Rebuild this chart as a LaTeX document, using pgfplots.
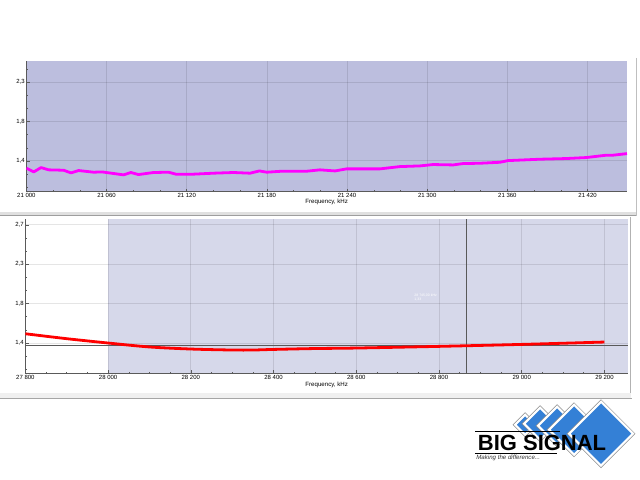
\documentclass[border=0pt]{standalone}
\usepackage{pgfplots}
\pgfplotsset{compat=1.18}
\usepackage{fontspec}
\setmainfont{Liberation Sans}
\definecolor{topfill}{RGB}{188,190,222}
\definecolor{botfill}{RGB}{214,216,234}
\definecolor{logoblue}{RGB}{52,128,214}
\definecolor{axgray}{RGB}{90,90,90}

\pgfplotsset{
  vswr/.style={
    y coord trafo/.code={\pgfmathparse{##1<1.8 ? (##1-1.4)/0.4 : (##1<2.3 ? 1+(##1-1.8)/0.5 : 2+(##1-2.3)/0.4)}},
    y coord inv trafo/.code={\pgfmathparse{##1<1 ? 1.4+0.4*##1 : (##1<2 ? 1.8+0.5*(##1-1) : 2.3+0.4*(##1-2))}},
  },
  panel/.style={
    scale only axis,
    anchor=south west,
    axis x line*=bottom,
    axis y line*=left,
    axis line style={-, draw=axgray, line width=0.6pt},
    tick align=inside,
    major tick length=2.5pt,
    minor tick length=1.5pt,
    tick style={draw=axgray, line width=0.4pt},
    grid=major,
    major grid style={draw=black, opacity=0.1, line width=0.6pt},
    ticklabel style={font=\fontsize{4.5}{5}\selectfont, text=black, inner sep=1pt},
    xlabel style={font=\fontsize{4.6}{5}\selectfont, text=black, inner sep=1pt},
    xlabel={Frequency, kHz},
    scaled x ticks=false,
    scaled y ticks=false,
    clip=true,
  },
}

\begin{document}
\begin{tikzpicture}
\path (0,0) rectangle (480pt,360pt);

% ---------- top panel ----------
\begin{axis}[panel, vswr,
  at={(19.5pt,216pt)},
  width=450.75pt, height=98.25pt,
  xmin=21000, xmax=21449.5,
  ymin=1.085, ymax=2.516,
  axis background/.style={fill=topfill},
  xtick={21000,21060,21120,21180,21240,21300,21360,21420},
  xticklabels={21 000,21 060,21 120,21 180,21 240,21 300,21 360,21 420},
  minor x tick num=2,
  ytick={1.4,1.8,2.3},
  yticklabels={{1,4},{1,8},{2,3}},
  minor ytick={1.133,1.267,1.533,1.667,1.967,2.133,2.433},
  xlabel style={yshift=1.5pt},
]
\addplot[draw={rgb,255:red,255;green,0;blue,255}, line width=2.1pt, line join=round] coordinates {
(21000,1.326) (21005.5,1.288) (21011,1.332) (21016.7,1.309) (21027.9,1.305)
(21033.4,1.278) (21039.1,1.302) (21050.3,1.285) (21056.6,1.288) (21072.7,1.258)
(21078.2,1.282) (21083.9,1.261) (21095.1,1.282) (21106.4,1.285) (21111.9,1.265)
(21125,1.265) (21140,1.275) (21155,1.282) (21167.4,1.275) (21174.4,1.298)
(21179.9,1.285) (21191.1,1.295) (21209.8,1.295) (21219.7,1.309) (21231,1.298)
(21239.7,1.319) (21264.6,1.319) (21279.5,1.342) (21294.5,1.349) (21304.4,1.363)
(21319.4,1.359) (21326.8,1.373) (21339.3,1.376) (21354.3,1.386) (21360.5,1.403)
(21384.2,1.417) (21404.1,1.424) (21419,1.434) (21434,1.458) (21439,1.458)
(21449.5,1.474)
};
\end{axis}

% ---------- bottom panel ----------
\begin{axis}[panel, vswr, set layers,
  at={(18.75pt,79.5pt)},
  width=452.25pt, height=116.25pt,
  xmin=27800, xmax=29257,
  ymin=1.088, ymax=2.76,
  xtick={27800,28000,28200,28400,28600,28800,29000,29200},
  xticklabels={27 800,28 000,28 200,28 400,28 600,28 800,29 000,29 200},
  minor x tick num=3,
  ytick={1.4,1.8,2.3,2.7},
  yticklabels={{1,4},{1,8},{2,3},{2,7}},
  minor ytick={1.133,1.267,1.533,1.667,1.967,2.133,2.433,2.567},
  xlabel style={yshift=0pt},
]
\begin{pgfonlayer}{axis background}
\fill[botfill] ({axis cs:28000,1.088}) rectangle ({axis cs:29257,2.76});
\end{pgfonlayer}
\addplot[draw=black!65, line width=0.6pt] coordinates {(27800,1.373) (29257,1.373)};
\addplot[draw=black!65, line width=0.6pt] coordinates {(28867,1.088) (28867,2.76)};
\addplot[draw={rgb,255:red,255;green,0;blue,0}, line width=2.1pt, smooth] coordinates {
(27800,1.494) (27900,1.444) (28000,1.400) (28100,1.360) (28200,1.339)
(28300,1.329) (28350,1.329) (28400,1.335) (28500,1.344) (28600,1.349)
(28800,1.366) (29000,1.386) (29200,1.410)
};
\node[anchor=north west, inner sep=0pt, align=left, text=white, font=\fontsize{2.6}{3}\selectfont]
  at (axis cs:28740,1.93) {28 745,00 kHz\\1,33};
\end{axis}

% ---------- frames and logo (pixel coordinates) ----------
\begin{scope}[x=0.75pt, y=-0.75pt, shift={(0pt,360pt)}]
  % top panel frame
  \fill[black!12] (0,212.5) rectangle (637,216.5);
  \draw[black!38, line width=0.6pt] (0,215.8) -- (637,215.8);
  \draw[black!25, line width=1.2pt] (636.5,58) -- (636.5,216);
  % bottom panel frame
  \draw[black!30, line width=0.7pt] (630.5,217) -- (630.5,393);
  \fill[black!6] (0,393) rectangle (631,398.5);
  \draw[black!35, line width=0.6pt] (0,398.8) -- (632,398.8);

  % logo diamonds
  \foreach \cx/\cy/\h in {525/425/10, 540/424/16, 557/426/19, 574/430/25, 601/434/32} {
    \draw[black!45, line width=2.6pt, line join=miter] (\cx,\cy-\h) -- (\cx+\h,\cy) -- (\cx,\cy+\h) -- (\cx-\h,\cy) -- cycle;
    \filldraw[fill=logoblue, draw=white, line width=1.6pt, line join=miter] (\cx,\cy-\h) -- (\cx+\h,\cy) -- (\cx,\cy+\h) -- (\cx-\h,\cy) -- cycle;
  }
  \draw[black, line width=0.8pt] (475,431.7) -- (560,431.7);
  \draw[black, line width=0.8pt] (475,454) -- (557,454);
  \node[font=\fontsize{16.5}{17}\selectfont\bfseries, text=black, inner sep=0pt] at (542,443.3) {BIG SIGNAL};
  \node[anchor=west, font=\fontsize{4.6}{5}\selectfont\itshape, text=black!80, inner sep=0pt] at (476,458.5) {Making the difference...};
\end{scope}
\end{tikzpicture}
\end{document}
